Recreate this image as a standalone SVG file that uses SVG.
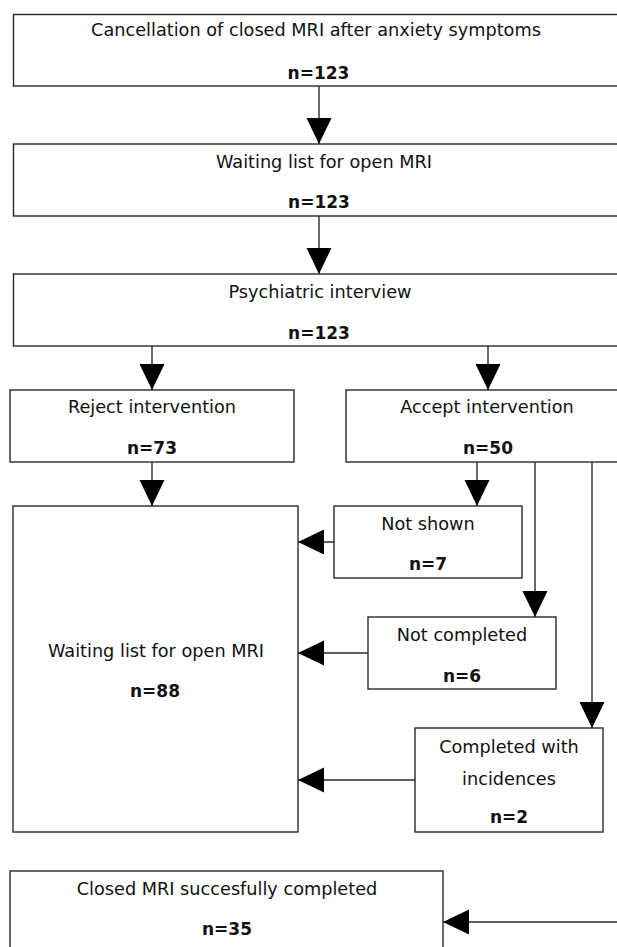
<svg xmlns="http://www.w3.org/2000/svg" width="617" height="947" viewBox="0 0 617 947">
<style>
.box{fill:#fff;stroke:#2a2a2a;stroke-width:1.4}
.t{font-family:"DejaVu Sans","Liberation Sans",sans-serif;font-size:17.7px;fill:#111;text-anchor:middle}
.n{font-family:"DejaVu Sans","Liberation Sans",sans-serif;font-size:17px;font-weight:bold;fill:#111;text-anchor:middle}
.c{fill:none;stroke:#2a2a2a;stroke-width:1.4}
</style>
<defs>
<marker id="ah" markerUnits="userSpaceOnUse" markerWidth="26" markerHeight="26" refX="26" refY="12.5" orient="auto" viewBox="0 0 26 25">
<path d="M0,0 L26,12.5 L0,25 z" fill="#000"/>
</marker>
</defs>
<rect width="617" height="947" fill="#fff"/>
<g id="connectors">
<line class="c" x1="319" y1="86" x2="319" y2="144" marker-end="url(#ah)"/>
<line class="c" x1="319" y1="216" x2="319" y2="274" marker-end="url(#ah)"/>
<line class="c" x1="152" y1="346" x2="152" y2="390" marker-end="url(#ah)"/>
<line class="c" x1="488" y1="346" x2="488" y2="390" marker-end="url(#ah)"/>
<line class="c" x1="152" y1="462" x2="152" y2="506" marker-end="url(#ah)"/>
<line class="c" x1="477" y1="462" x2="477" y2="506" marker-end="url(#ah)"/>
<line class="c" x1="535" y1="462" x2="535" y2="617" marker-end="url(#ah)"/>
<line class="c" x1="592" y1="462" x2="592" y2="728" marker-end="url(#ah)"/>
<line class="c" x1="334" y1="542" x2="298" y2="542" marker-end="url(#ah)"/>
<line class="c" x1="368" y1="653" x2="298" y2="653" marker-end="url(#ah)"/>
<line class="c" x1="415" y1="780" x2="298" y2="780" marker-end="url(#ah)"/>
<line class="c" x1="620" y1="922" x2="443" y2="922" marker-end="url(#ah)"/>
</g>
<g id="n1"><rect class="box" x="13.5" y="14.5" width="610" height="71.5"/>
<text class="t" x="316" y="36">Cancellation of closed MRI after anxiety symptoms</text>
<text class="n" x="318.5" y="79">n=123</text></g>
<g id="n2"><rect class="box" x="13.5" y="144" width="610" height="72"/>
<text class="t" x="324" y="168">Waiting list for open MRI</text>
<text class="n" x="319" y="208">n=123</text></g>
<g id="n3"><rect class="box" x="13.5" y="274" width="610" height="72"/>
<text class="t" x="320" y="298">Psychiatric interview</text>
<text class="n" x="319" y="339">n=123</text></g>
<g id="n4"><rect class="box" x="10" y="390" width="284" height="72"/>
<text class="t" x="152" y="413">Reject intervention</text>
<text class="n" x="152" y="454">n=73</text></g>
<g id="n5"><rect class="box" x="346" y="390" width="280" height="72"/>
<text class="t" x="487" y="413">Accept intervention</text>
<text class="n" x="488" y="454">n=50</text></g>
<g id="n6"><rect class="box" x="13" y="506" width="285" height="326"/>
<text class="t" x="156" y="657">Waiting list for open MRI</text>
<text class="n" x="155" y="697">n=88</text></g>
<g id="n7"><rect class="box" x="334" y="506" width="188" height="72"/>
<text class="t" x="428" y="530">Not shown</text>
<text class="n" x="428" y="570">n=7</text></g>
<g id="n8"><rect class="box" x="368" y="617" width="188" height="72"/>
<text class="t" x="462" y="641">Not completed</text>
<text class="n" x="462" y="682">n=6</text></g>
<g id="n9"><rect class="box" x="415" y="728" width="188" height="104"/>
<text class="t" x="509" y="753">Completed with</text>
<text class="t" x="509" y="785">incidences</text>
<text class="n" x="509" y="823">n=2</text></g>
<g id="n10"><rect class="box" x="10" y="871" width="433" height="90"/>
<text class="t" x="227" y="895">Closed MRI succesfully completed</text>
<text class="n" x="227" y="935">n=35</text></g>
</svg>
